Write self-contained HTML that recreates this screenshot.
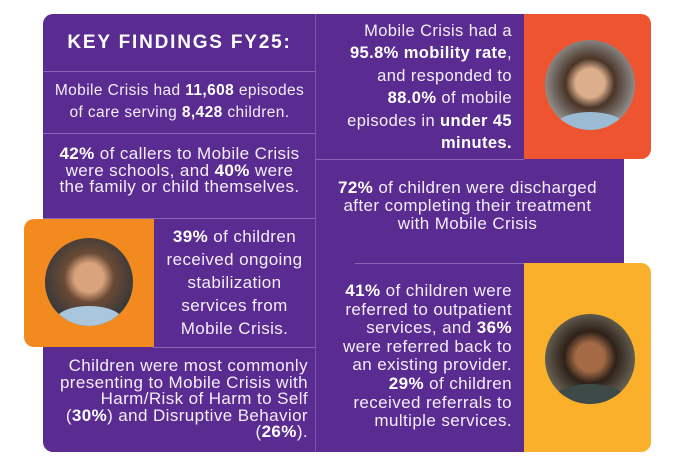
<!DOCTYPE html>
<html><head><meta charset="utf-8"><style>
*{margin:0;padding:0;box-sizing:border-box}
body{width:680px;height:461px;background:#fff;position:relative;overflow:hidden;font-family:"Liberation Sans",sans-serif;color:#f3eefa}
.a{position:absolute}
.p{background:#5a2b90}
b{font-weight:bold;color:#fff}
.t{position:absolute;font-size:17px;line-height:17px;letter-spacing:0.4px;white-space:nowrap}
.hl{position:absolute;height:1px;background:#8a66b8}
.ph{position:absolute;border-radius:50%;overflow:hidden}
</style></head><body>
<div class="a p" style="left:43px;top:14px;width:273px;height:438px;border-radius:10px 0 0 10px"></div>
<div class="a p" style="left:315px;top:14px;width:210px;height:146px"></div>
<div class="a" style="left:524px;top:14px;width:127px;height:145px;background:#ef5430;border-radius:0 10px 10px 0"></div>
<div class="a p" style="left:315px;top:159px;width:309px;height:105px"></div>
<div class="a p" style="left:315px;top:263px;width:210px;height:189px"></div>
<div class="a" style="left:524px;top:263px;width:127px;height:189px;background:#fbb02b;border-radius:0 10px 10px 0"></div>
<div class="a" style="left:24px;top:219px;width:130px;height:128px;background:#f28a20;border-radius:10px 0 0 10px"></div>
<div class="a" style="left:315px;top:14px;width:1px;height:438px;background:#7b55aa"></div>
<div class="hl" style="left:43px;top:71px;width:272px"></div>
<div class="hl" style="left:43px;top:133px;width:272px"></div>
<div class="hl" style="left:43px;top:218px;width:272px"></div>
<div class="hl" style="left:153px;top:347px;width:162px"></div>
<div class="hl" style="left:315px;top:159px;width:209px"></div>
<div class="hl" style="left:355px;top:263px;width:169px"></div>

<div class="a" style="left:43px;top:32px;width:273px;text-align:center;font-size:19px;font-weight:bold;color:#fff;letter-spacing:1.8px">KEY FINDINGS FY25:</div>
<div class="t" style="left:43px;top:80px;width:273px;text-align:center;line-height:22px;font-size:15.5px">Mobile Crisis had <b>11,608</b> episodes<br>of care serving <b>8,428</b> children.</div>
<div class="t" style="left:43px;top:146px;width:273px;text-align:center;line-height:16.5px"><b>42%</b> of callers to Mobile Crisis<br>were schools, and <b>40%</b> were<br>the family or child themselves.</div>
<div class="t" style="left:153px;top:225px;width:163px;text-align:center;line-height:23px"><b>39%</b> of children<br>received ongoing<br>stabilization<br>services from<br>Mobile Crisis.</div>
<div class="t" style="left:43px;top:358px;width:265px;text-align:right;line-height:16.5px">Children were most commonly<br>presenting to Mobile Crisis with<br>Harm/Risk of Harm to Self<br>(<b>30%</b>) and Disruptive Behavior<br>(<b>26%</b>).</div>
<div class="t" style="left:315px;top:20px;width:197px;text-align:right;line-height:22.4px;font-size:16.5px">Mobile Crisis had a<br><b>95.8% mobility rate</b>,<br>and responded to<br><b>88.0%</b> of mobile<br>episodes in <b>under 45</b><br><b>minutes.</b></div>
<div class="t" style="left:315px;top:179px;width:305px;text-align:center;line-height:18px"><b>72%</b> of children were discharged<br>after completing their treatment<br>with Mobile Crisis</div>
<div class="t" style="left:315px;top:282px;width:197px;text-align:right;line-height:18.6px"><b>41%</b> of children were<br>referred to outpatient<br>services, and <b>36%</b><br>were referred back to<br>an existing provider.<br><b>29%</b> of children<br>received referrals to<br>multiple services.</div>

<div class="ph" style="left:45px;top:238px;width:88px;height:88px;background:radial-gradient(circle at 50% 45%,#d9a47c 0 22%,#6b4a35 38%,#3a3a3a 70%);"><div class="a" style="left:10px;top:68px;width:68px;height:30px;border-radius:50%;background:#a9c6dc"></div></div>
<div class="ph" style="left:545px;top:40px;width:90px;height:90px;background:radial-gradient(circle at 50% 48%,#dcae8c 0 22%,#4a3528 38%,#9a9a9a 75%);"><div class="a" style="left:12px;top:72px;width:66px;height:25px;border-radius:50%;background:#9bbad4"></div></div>
<div class="ph" style="left:545px;top:314px;width:90px;height:90px;background:radial-gradient(circle at 50% 48%,#a36a45 0 22%,#2e2119 40%,#6e6a5c 75%);"><div class="a" style="left:10px;top:70px;width:70px;height:28px;border-radius:50%;background:#3d4a48"></div></div>
</body></html>
